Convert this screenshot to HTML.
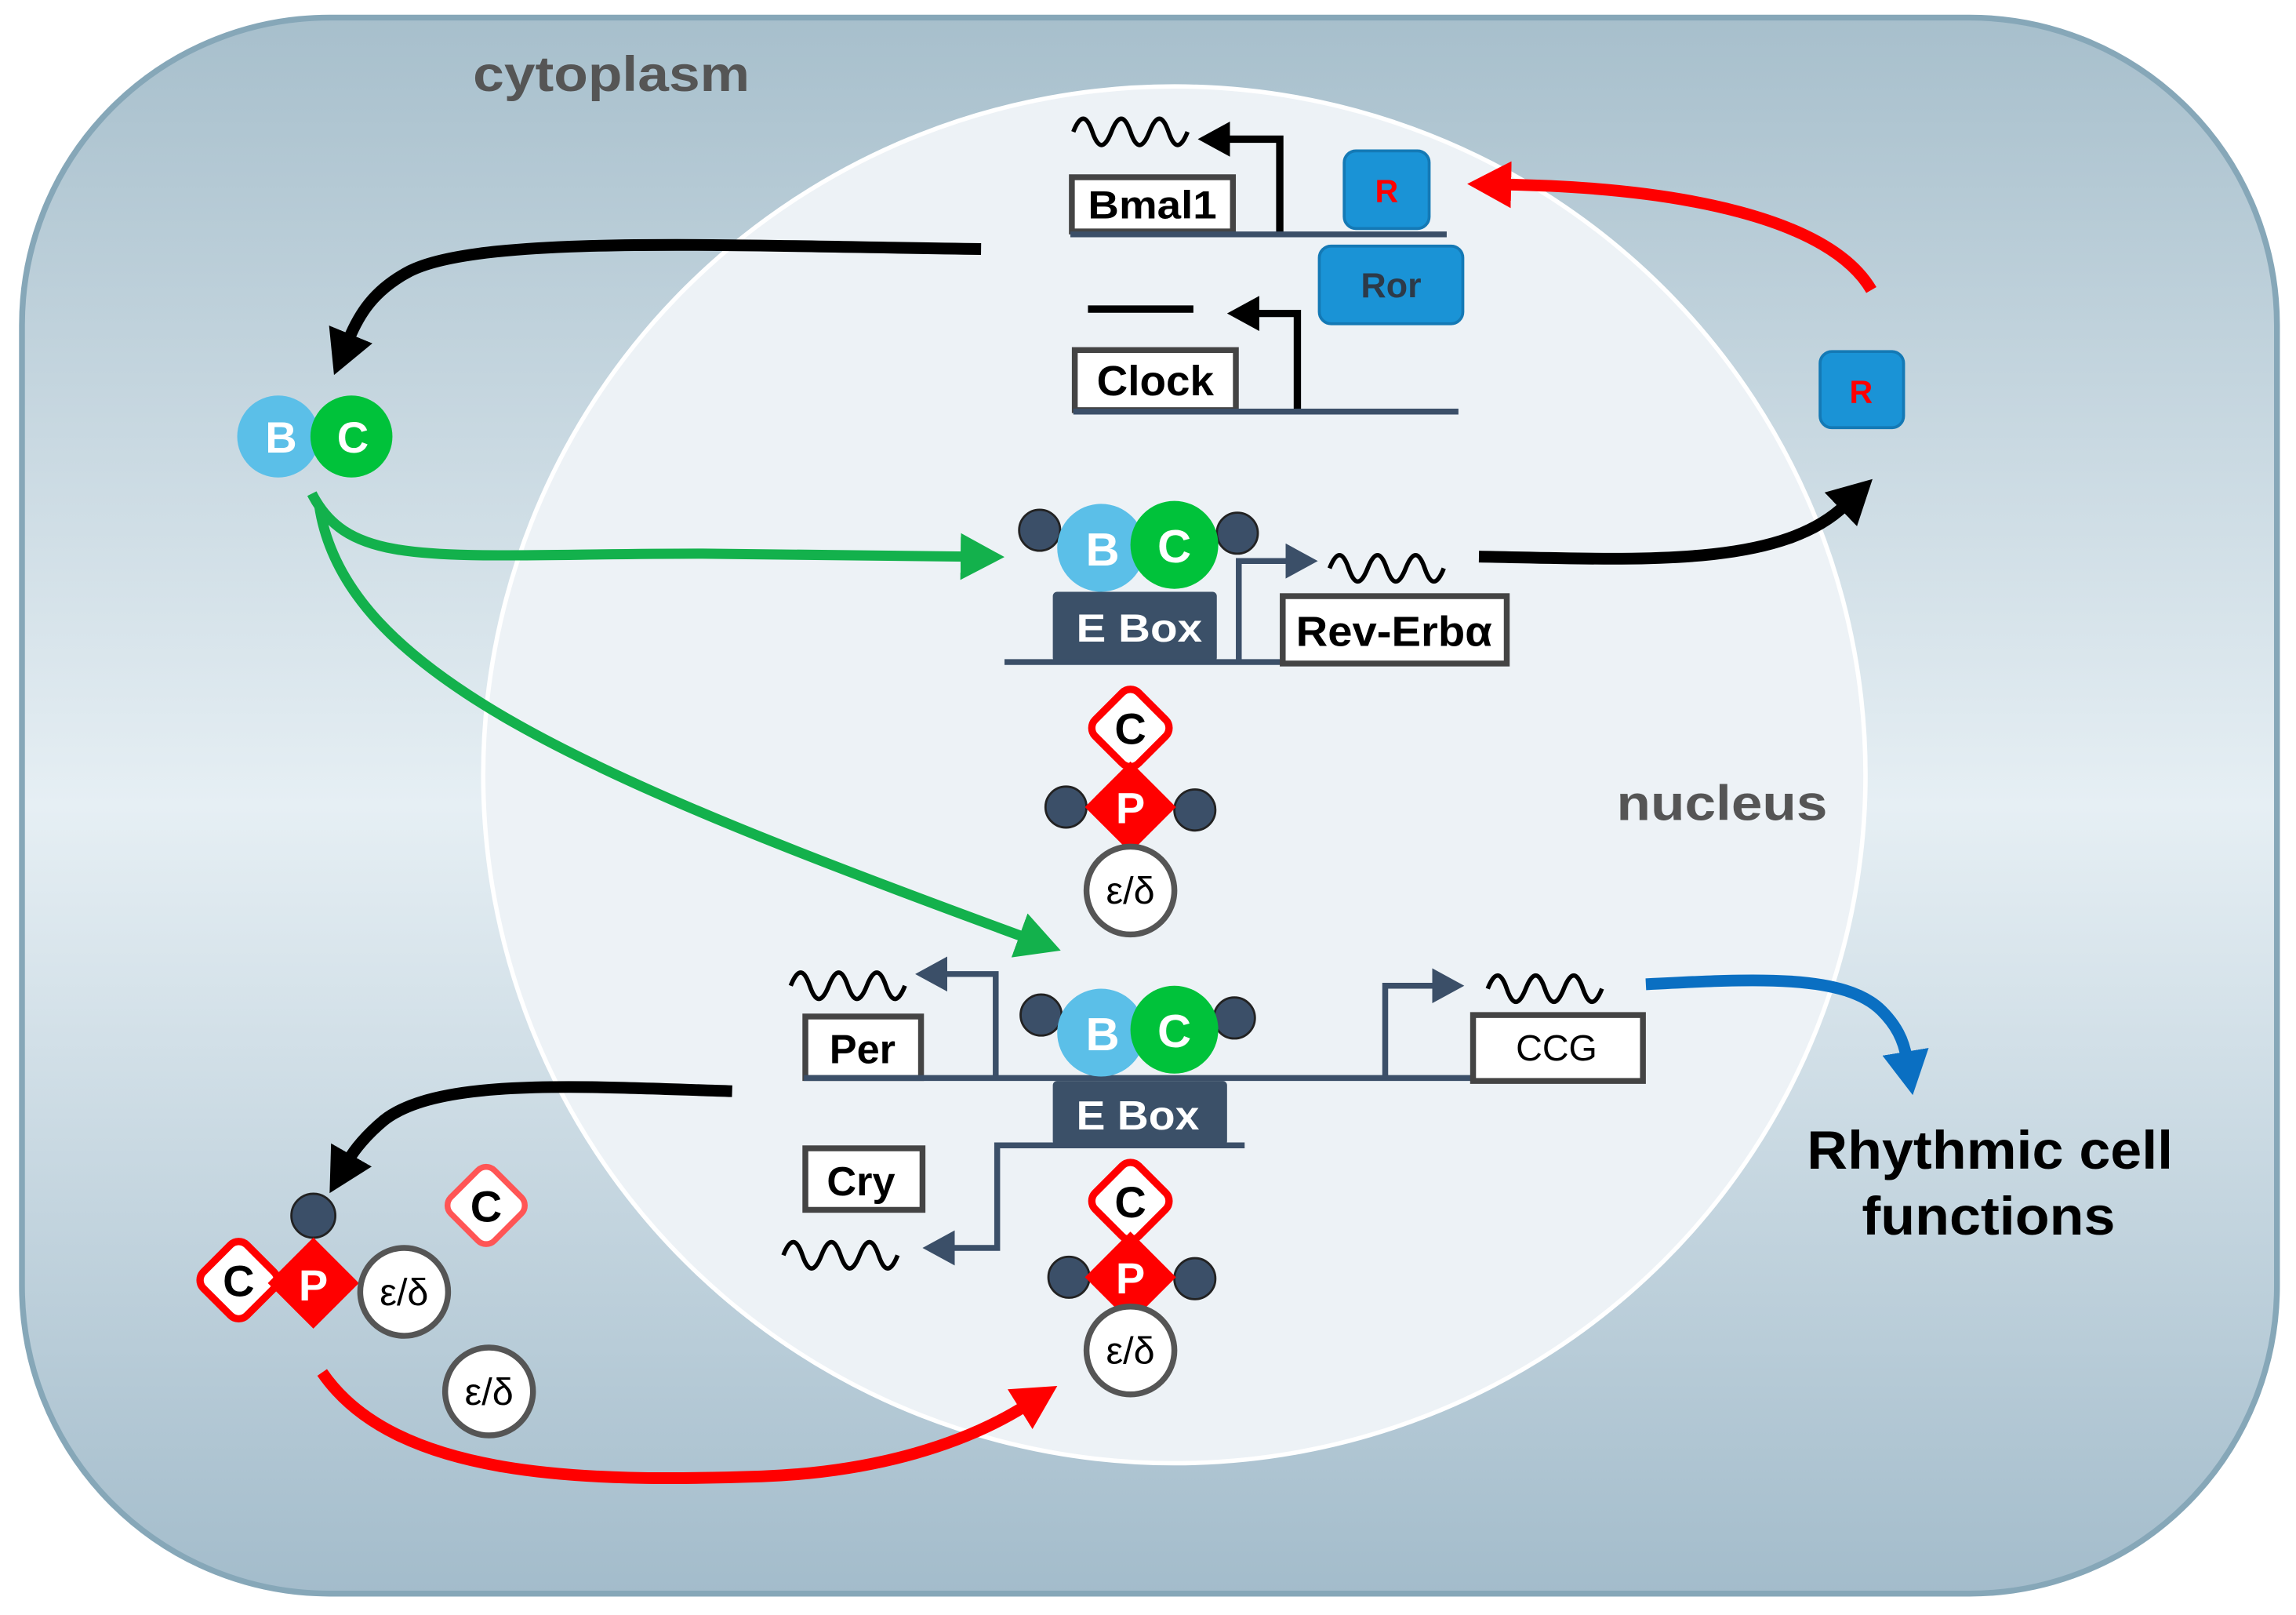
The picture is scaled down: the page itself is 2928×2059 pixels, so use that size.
<!DOCTYPE html>
<html><head><meta charset="utf-8"><style>html,body{margin:0;padding:0;background:#fff}svg{display:block}text{font-family:"Liberation Sans",sans-serif;font-weight:bold}</style></head><body>
<svg width="2928" height="2059" viewBox="0 0 1568 1102.6" xmlns="http://www.w3.org/2000/svg">
<defs>
<linearGradient id="cg" x1="0" y1="0" x2="0" y2="1">
<stop offset="0" stop-color="#a7bfcc"/><stop offset="0.5" stop-color="#e6eff4"/><stop offset="1" stop-color="#a3bccb"/>
</linearGradient>
<marker id="ak" markerUnits="userSpaceOnUse" markerWidth="40" markerHeight="40" refX="4" refY="18" orient="auto"><path d="M0,2 L30,18 L0,34 Z" fill="#000"/></marker>
<marker id="ag" markerUnits="userSpaceOnUse" markerWidth="40" markerHeight="40" refX="4" refY="18" orient="auto"><path d="M0,2 L30,18 L0,34 Z" fill="#13b14c"/></marker>
<marker id="ar" markerUnits="userSpaceOnUse" markerWidth="40" markerHeight="40" refX="4" refY="18" orient="auto"><path d="M0,2 L30,18 L0,34 Z" fill="#f00"/></marker>
<marker id="ab" markerUnits="userSpaceOnUse" markerWidth="40" markerHeight="40" refX="4" refY="18" orient="auto"><path d="M0,2 L30,18 L0,34 Z" fill="#0a6fc2"/></marker>
<marker id="ak2" markerUnits="userSpaceOnUse" markerWidth="30" markerHeight="30" refX="2" refY="12" orient="auto"><path d="M0,0 L22,12 L0,24 Z" fill="#000"/></marker>
<marker id="an" markerUnits="userSpaceOnUse" markerWidth="30" markerHeight="30" refX="2" refY="12" orient="auto"><path d="M0,0 L22,12 L0,24 Z" fill="#3b4f68"/></marker>
</defs>
<rect x="0" y="0" width="1568" height="1103" fill="#fff"/>
<rect x="15" y="12" width="1540" height="1076" rx="210" fill="url(#cg)" stroke="#86a7b8" stroke-width="4"/>
<ellipse cx="802" cy="529" rx="472" ry="470" fill="#edf2f6" stroke="#fff" stroke-width="3"/>
<text x="323" y="62" font-size="34" fill="#555" textLength="189" lengthAdjust="spacingAndGlyphs">cytoplasm</text>
<text x="1104" y="560" font-size="34" fill="#555" textLength="144" lengthAdjust="spacingAndGlyphs">nucleus</text>

<path d="M733,90 q7,-18 13,0 t13,0 t13,0 t13,0 t13,0 t13,0" fill="none" stroke="#000" stroke-width="3"/>
<polyline points="874,160 874,95 838,95" fill="none" stroke="#000" stroke-width="5" marker-end="url(#ak2)"/>
<rect x="732" y="121" width="110" height="37" fill="#fff" stroke="#444" stroke-width="4"/>
<text x="787" y="149" font-size="27" text-anchor="middle" textLength="88" lengthAdjust="spacingAndGlyphs">Bmal1</text>
<line x1="731" y1="160" x2="988" y2="160" stroke="#3b4f68" stroke-width="4"/>
<rect x="918" y="103" width="58" height="53" rx="8" fill="#1a93d6" stroke="#1479b5" stroke-width="2"/>
<text x="947" y="138" font-size="22" fill="#f00" text-anchor="middle">R</text>
<rect x="901" y="168" width="98" height="53" rx="8" fill="#1a93d6" stroke="#1479b5" stroke-width="2"/>
<text x="950" y="203" font-size="24" fill="#2d3a48" text-anchor="middle">Ror</text>
<path d="M1278,198 C1250,150 1150,128 1028,126" fill="none" stroke="#f00" stroke-width="8" marker-end="url(#ar)"/>

<line x1="743" y1="211" x2="815" y2="211" stroke="#000" stroke-width="5"/>
<polyline points="886,281 886,214 858,214" fill="none" stroke="#000" stroke-width="5" marker-end="url(#ak2)"/>
<rect x="734" y="239" width="110" height="41" fill="#fff" stroke="#444" stroke-width="4"/>
<text x="789" y="270" font-size="29" text-anchor="middle" textLength="80" lengthAdjust="spacingAndGlyphs">Clock</text>
<line x1="733" y1="281" x2="996" y2="281" stroke="#3b4f68" stroke-width="4"/>

<path d="M670,170 C500,168 330,160 280,185 C255,198 245,215 238,232" fill="none" stroke="#000" stroke-width="8" marker-end="url(#ak)"/>

<circle cx="190" cy="298" r="28" fill="#5bbfe8"/>
<circle cx="240" cy="298" r="28" fill="#00c23a"/>
<text x="192" y="309" font-size="30" fill="#fff" text-anchor="middle">B</text>
<text x="241" y="309" font-size="30" fill="#fff" text-anchor="middle">C</text>

<path d="M213,337 C240,390 300,378 480,378 L660,380" fill="none" stroke="#13b14c" stroke-width="7" marker-end="url(#ag)"/>
<path d="M218,345 C235,460 400,530 700,640" fill="none" stroke="#13b14c" stroke-width="7" marker-end="url(#ag)"/>

<circle cx="710" cy="362" r="14" fill="#3b4f68" stroke="#222" stroke-width="1.5"/>
<circle cx="845" cy="364" r="14" fill="#3b4f68" stroke="#222" stroke-width="1.5"/>
<circle cx="752" cy="374" r="30" fill="#5bbfe8"/>
<circle cx="802" cy="372" r="30" fill="#00c23a"/>
<text x="753" y="386" font-size="32" fill="#fff" text-anchor="middle">B</text>
<text x="802" y="384" font-size="32" fill="#fff" text-anchor="middle">C</text>
<rect x="719" y="404" width="112" height="48" rx="3" fill="#3b5068"/>
<text x="778" y="438" font-size="27" fill="#fff" text-anchor="middle" textLength="86" lengthAdjust="spacingAndGlyphs">E Box</text>
<line x1="686" y1="452" x2="877" y2="452" stroke="#3b4f68" stroke-width="4"/>
<polyline points="846,452 846,383 880,383" fill="none" stroke="#3b4f68" stroke-width="4" marker-end="url(#an)"/>
<path d="M908,388 q7,-18 13,0 t13,0 t13,0 t13,0 t13,0 t13,0" fill="none" stroke="#000" stroke-width="3"/>
<rect x="876" y="407" width="153" height="46" fill="#fff" stroke="#444" stroke-width="4"/>
<text x="952" y="441" font-size="29" text-anchor="middle" textLength="134" lengthAdjust="spacingAndGlyphs">Rev-Erbα</text>
<path d="M1010,380 C1120,382 1215,388 1260,345" fill="none" stroke="#000" stroke-width="8" marker-end="url(#ak)"/>
<rect x="1243" y="240" width="57" height="52" rx="8" fill="#1a93d6" stroke="#1479b5" stroke-width="2"/>
<text x="1271" y="275" font-size="22" fill="#f00" text-anchor="middle">R</text>

<g transform="translate(772,551)">
<circle cx="-44" cy="0" r="14" fill="#3b4f68" stroke="#222" stroke-width="1.5"/>
<circle cx="44" cy="2" r="14" fill="#3b4f68" stroke="#222" stroke-width="1.5"/>
<rect x="-21" y="-21" width="42" height="42" transform="translate(0,-54) rotate(45)" rx="8" fill="#fff" stroke="#f00" stroke-width="5"/>
<text x="0" y="-43" font-size="30" text-anchor="middle">C</text>
<rect x="-22" y="-22" width="44" height="44" transform="rotate(45)" fill="#f00"/>
<text x="0" y="11" font-size="30" fill="#fff" text-anchor="middle">P</text>
<circle cx="0" cy="57" r="30" fill="#fff" stroke="#555" stroke-width="4"/>
<text x="0" y="66" font-size="26" text-anchor="middle" style="font-weight:normal">ε/δ</text>
</g>

<path d="M540,673 q7,-18 13,0 t13,0 t13,0 t13,0 t13,0 t13,0" fill="none" stroke="#000" stroke-width="3"/>
<polyline points="680,736 680,665 645,665" fill="none" stroke="#3b4f68" stroke-width="4" marker-end="url(#an)"/>
<rect x="550" y="694" width="79" height="42" fill="#fff" stroke="#444" stroke-width="4"/>
<text x="589" y="726" font-size="28" text-anchor="middle">Per</text>
<line x1="549" y1="736" x2="1006" y2="736" stroke="#3b4f68" stroke-width="4"/>
<circle cx="711" cy="693" r="14" fill="#3b4f68" stroke="#222" stroke-width="1.5"/>
<circle cx="843" cy="695" r="14" fill="#3b4f68" stroke="#222" stroke-width="1.5"/>
<circle cx="752" cy="705" r="30" fill="#5bbfe8"/>
<circle cx="802" cy="703" r="30" fill="#00c23a"/>
<text x="753" y="717" font-size="32" fill="#fff" text-anchor="middle">B</text>
<text x="802" y="715" font-size="32" fill="#fff" text-anchor="middle">C</text>
<rect x="719" y="738" width="119" height="44" rx="3" fill="#3b5068"/>
<text x="777" y="771" font-size="28" fill="#fff" text-anchor="middle" textLength="84" lengthAdjust="spacingAndGlyphs">E Box</text>
<polyline points="850,782 681,782 681,852 650,852" fill="none" stroke="#3b4f68" stroke-width="4" marker-end="url(#an)"/>
<rect x="550" y="784" width="80" height="42" fill="#fff" stroke="#444" stroke-width="4"/>
<text x="588" y="816" font-size="28" text-anchor="middle">Cry</text>
<path d="M535,857 q7,-18 13,0 t13,0 t13,0 t13,0 t13,0 t13,0" fill="none" stroke="#000" stroke-width="3"/>
<polyline points="946,736 946,673 980,673" fill="none" stroke="#3b4f68" stroke-width="4" marker-end="url(#an)"/>
<path d="M1016,675 q7,-18 13,0 t13,0 t13,0 t13,0 t13,0 t13,0" fill="none" stroke="#000" stroke-width="3"/>
<rect x="1006" y="693" width="116" height="45" fill="#fff" stroke="#444" stroke-width="4"/>
<text x="1063" y="724" font-size="25" style="font-weight:normal" text-anchor="middle">CCG</text>
<path d="M1124,672 C1200,668 1260,665 1285,690 C1295,700 1300,710 1302,722" fill="none" stroke="#0a6fc2" stroke-width="8" marker-end="url(#ab)"/>
<text x="1359" y="798" font-size="37" text-anchor="middle" textLength="250" lengthAdjust="spacingAndGlyphs">Rhythmic cell</text>
<text x="1358" y="843" font-size="37" text-anchor="middle" textLength="173" lengthAdjust="spacingAndGlyphs">functions</text>

<g transform="translate(772,872)">
<circle cx="-42" cy="0" r="14" fill="#3b4f68" stroke="#222" stroke-width="1.5"/>
<circle cx="44" cy="1" r="14" fill="#3b4f68" stroke="#222" stroke-width="1.5"/>
<rect x="-21" y="-21" width="42" height="42" transform="translate(0,-52) rotate(45)" rx="8" fill="#fff" stroke="#f00" stroke-width="5"/>
<text x="0" y="-41" font-size="30" text-anchor="middle">C</text>
<rect x="-22" y="-22" width="44" height="44" transform="rotate(45)" fill="#f00"/>
<text x="0" y="11" font-size="30" fill="#fff" text-anchor="middle">P</text>
<circle cx="0" cy="50" r="30" fill="#fff" stroke="#555" stroke-width="4"/>
<text x="0" y="59" font-size="26" text-anchor="middle" style="font-weight:normal">ε/δ</text>
</g>

<path d="M500,745 C400,742 300,735 262,765 C250,775 242,785 238,792" fill="none" stroke="#000" stroke-width="8" marker-end="url(#ak)"/>
<circle cx="214" cy="830" r="15" fill="#3b4f68" stroke="#222" stroke-width="1.5"/>
<rect x="-21" y="-21" width="42" height="42" transform="translate(163,874) rotate(45)" rx="8" fill="#fff" stroke="#f00" stroke-width="5"/>
<text x="163" y="885" font-size="30" text-anchor="middle">C</text>
<rect x="-22" y="-22" width="44" height="44" transform="translate(214,876) rotate(45)" fill="#f00"/>
<text x="214" y="888" font-size="30" fill="#fff" text-anchor="middle">P</text>
<circle cx="276" cy="882" r="30" fill="#fff" stroke="#555" stroke-width="4"/>
<text x="276" y="891" font-size="26" text-anchor="middle" style="font-weight:normal">ε/δ</text>
<rect x="-21" y="-21" width="42" height="42" transform="translate(332,823) rotate(45)" rx="8" fill="#fff" stroke="#f55" stroke-width="4"/>
<text x="332" y="834" font-size="30" text-anchor="middle">C</text>
<circle cx="334" cy="950" r="30" fill="#fff" stroke="#555" stroke-width="4"/>
<text x="334" y="959" font-size="26" text-anchor="middle" style="font-weight:normal">ε/δ</text>
<path d="M220,937 C270,1010 400,1012 520,1008 C600,1005 660,985 700,960" fill="none" stroke="#f00" stroke-width="8" marker-end="url(#ar)"/>
</svg>
</body></html>
